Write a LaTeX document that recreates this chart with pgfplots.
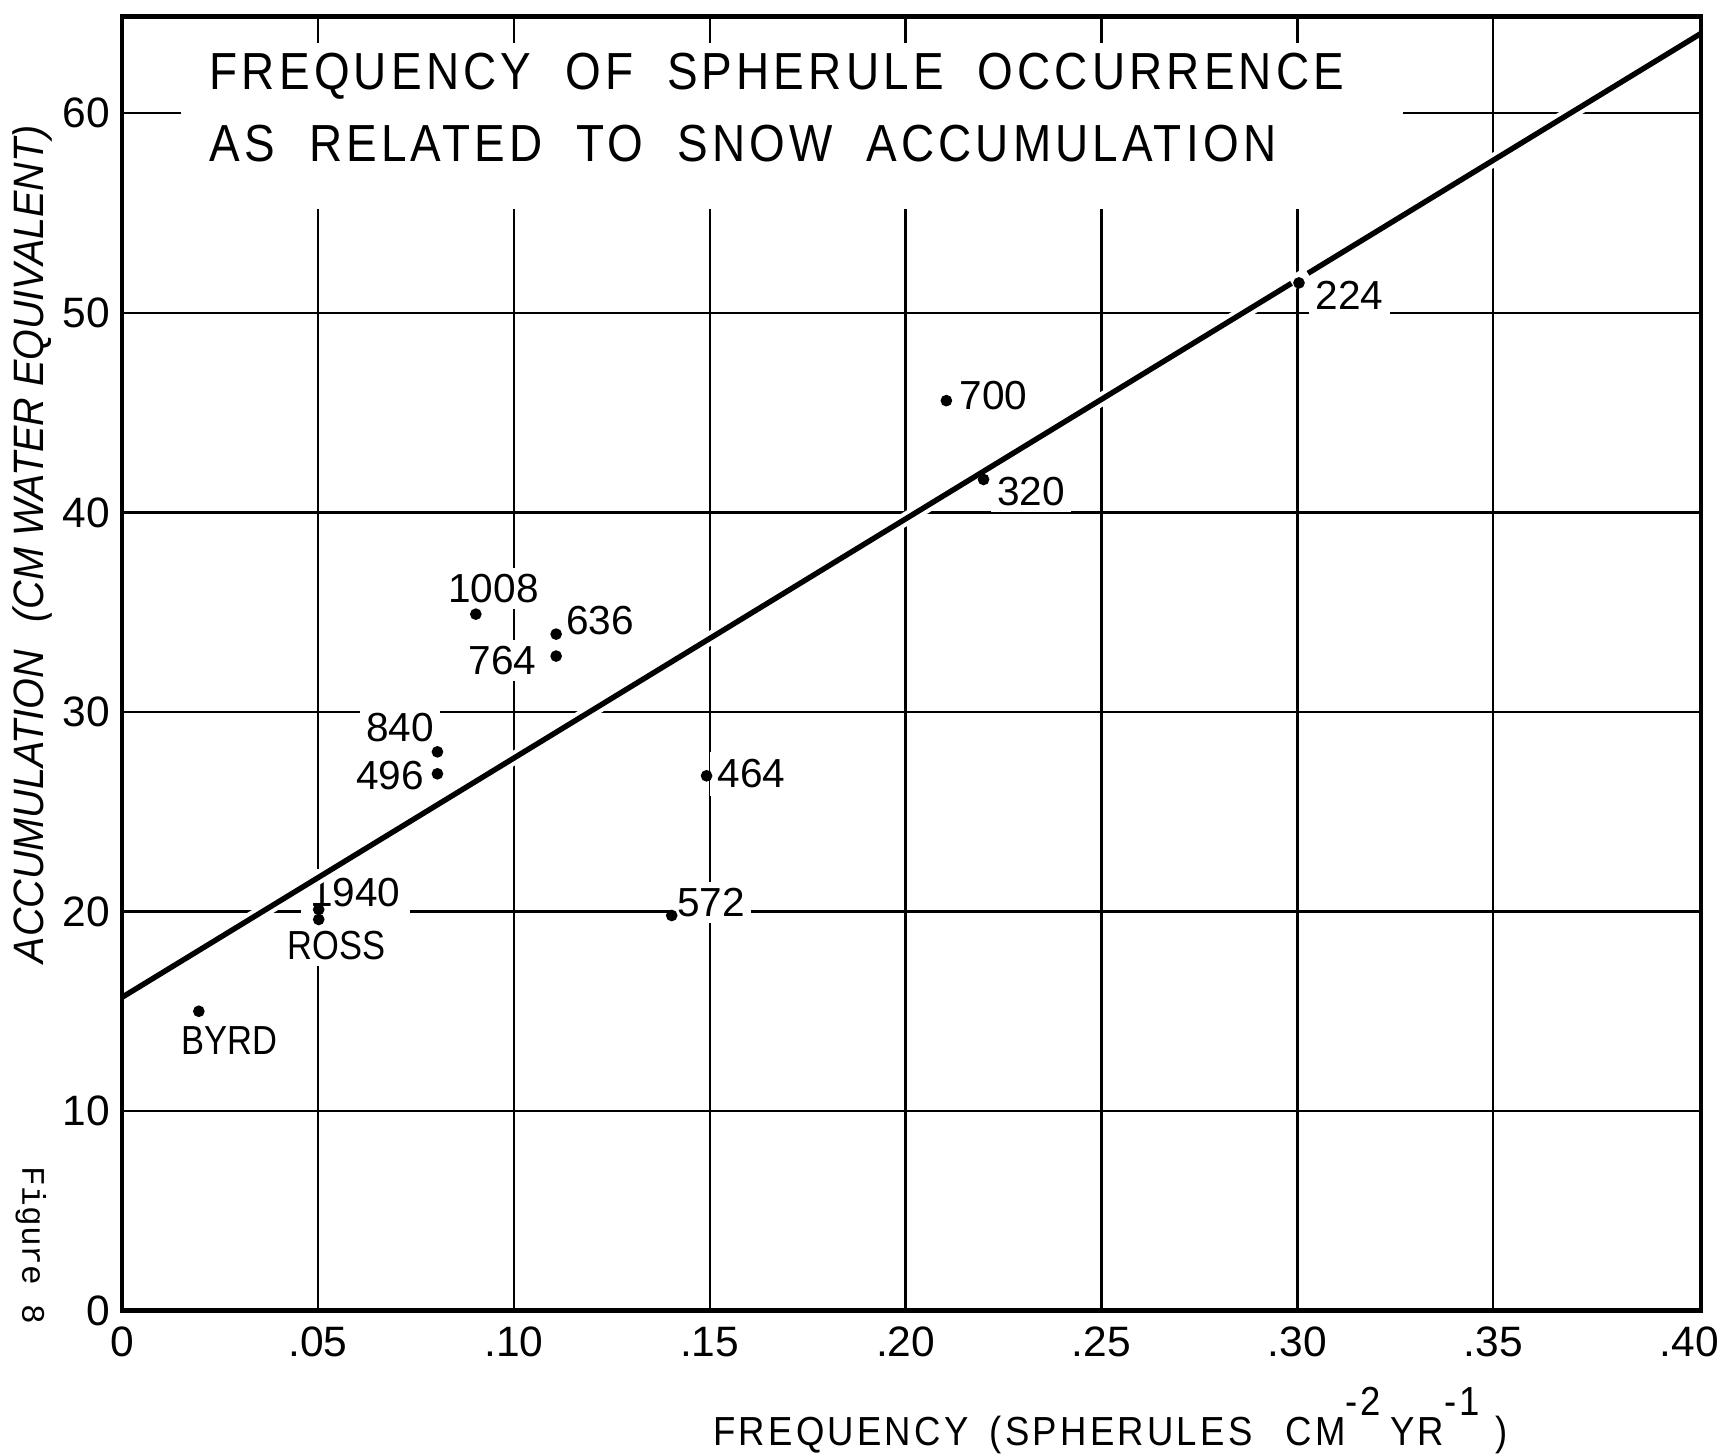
\documentclass[border=0pt]{standalone}
\usepackage{fontspec}
\setmainfont{Liberation Sans}
\newfontfamily\lett{Liberation Sans}[FakeStretch=0.88,LetterSpace=8,WordSpace=2]
\newfontfamily\xlab{Liberation Sans}[FakeStretch=0.9,LetterSpace=8,WordSpace=1.6]
\newfontfamily\ylab{Liberation Sans}[FakeStretch=0.93]
\newfontfamily\cond{Liberation Sans}[FakeStretch=0.85]
\newfontfamily\typew{Liberation Mono}
\usepackage{pgfplots}
\pgfplotsset{compat=1.18}
\begin{document}
\begin{tikzpicture}
\path[use as bounding box] (-11.1mm,-13.2mm) rectangle (145.7mm,119.2mm);
\begin{axis}[
  at={(0,0)}, anchor=south west,
  scale only axis, width=143.6mm, height=117.7mm,
  xmin=0, xmax=0.403, ymin=0, ymax=64.85,
  xtick={0,0.05,0.1,0.15,0.2,0.25,0.3,0.35},
  xticklabels={0,.05,.10,.15,.20,.25,.30,.35},
  extra x ticks={0.4},
  extra x tick labels={.40},
  extra x tick style={grid=none},
  ytick={0,10,20,30,40,50,60},
  yticklabels={0,10,20,30,40,50,60},
  major tick length=0pt,
  grid=major,
  major grid style={black, line width=0.6pt},
  axis line style={black, line width=1.2pt},
  xticklabel style={font=\fontsize{11}{11}\selectfont, anchor=north, inner sep=0pt, yshift=-1.4mm},
  yticklabel style={font=\fontsize{11}{11}\selectfont, anchor=east, inner sep=0pt, xshift=-1.0mm},
  clip=false,
]
% white area behind the title (the grid is interrupted there)
\fill[white] (axis cs:0.015,55.2) rectangle (axis cs:0.327,63.5);
\node[anchor=base west, inner sep=0pt, font=\lett\fontsize{13.5}{13.5}\selectfont] at (axis cs:0.0222,61.2) {FREQUENCY OF SPHERULE OCCURRENCE};
\node[anchor=base west, inner sep=0pt, font=\lett\fontsize{13.5}{13.5}\selectfont] at (axis cs:0.0222,57.6) {AS RELATED TO SNOW ACCUMULATION};

% station labels
\tikzset{lab/.style={fill=white, inner sep=1.6pt, font=\fontsize{10.5}{10.5}\selectfont}}
\node[lab] at (axis cs:0.3133,50.9) {224};
\node[lab] at (axis cs:0.2224,45.84) {700};
\node[lab] at (axis cs:0.2320,41.05) {320};
\node[lab] at (axis cs:0.0948,36.2) {1008};
\node[lab] at (axis cs:0.1220,34.6) {636};
\node[lab] at (axis cs:0.0971,32.6) {764};
\node[lab] at (axis cs:0.0710,29.2) {840};
\node[lab] at (axis cs:0.0684,26.8) {496};
\node[lab, inner sep=2pt] at (axis cs:0.1607,26.9) {464};
\node[lab, inner sep=2.4pt] at (axis cs:0.0595,20.94) {1940};
\node[lab] at (axis cs:0.1504,20.44) {572};
\node[lab, font=\cond\fontsize{10.5}{10.5}\selectfont] at (axis cs:0.0547,18.29) {ROSS};
\node[lab, font=\cond\fontsize{10.5}{10.5}\selectfont] at (axis cs:0.0275,13.55) {BYRD};

% regression line (white halo cuts the grid where the line crosses it)
\addplot[draw=white, line width=3.5pt, forget plot] coordinates {(0.004,16.18) (0.399,63.52)};
\addplot[black, line width=1.4pt, forget plot] coordinates {(0,15.7) (0.2985,51.48)};
\addplot[black, line width=1.4pt, forget plot] coordinates {(0.3027,51.98) (0.403,64.0)};

% observations
\addplot[only marks, mark=*, mark size=1.3pt, black] table {
x y
0.3004 51.5
0.2104 45.6
0.2199 41.65
0.0903 34.9
0.1108 33.9
0.1108 32.8
0.0805 28.0
0.0805 26.9
0.1492 26.8
0.0502 20.1
0.0502 19.6
0.1403 19.8
0.0196 15.0
};
\end{axis}
% axis titles and the figure number
\node[anchor=base west, inner sep=0pt, font=\xlab\fontsize{10.5}{10.5}\selectfont] at (53.7mm,-12.3mm)
  {FREQUENCY (SPHERULES\hspace{3mm}CM\raisebox{2.8mm}{-2}\hspace{0.8mm}YR\raisebox{2.8mm}{-1}\hspace{1.4mm})};
\node[rotate=90, inner sep=0pt, font=\ylab\itshape\fontsize{11}{11}\selectfont] at (-8.1mm,69.7mm)
  {ACCUMULATION\hspace{1.5mm} (CM WATER EQUIVALENT)};
\node[rotate=-90, inner sep=0pt, font=\typew\fontsize{8.5}{8.5}\selectfont] at (-8.3mm,5.9mm) {Figure 8};
\end{tikzpicture}
\end{document}
